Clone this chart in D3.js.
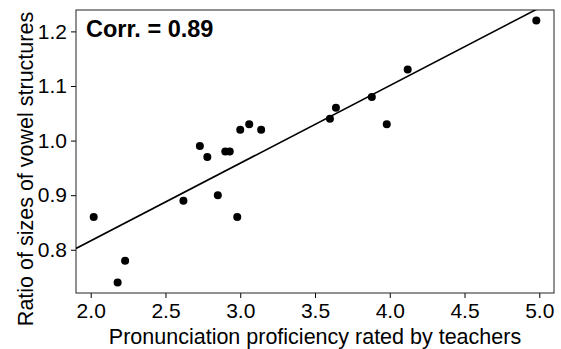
<!DOCTYPE html>
<html><head><meta charset="utf-8">
<script src="https://cdn.jsdelivr.net/npm/d3@7"></script>
<style>
html,body{margin:0;padding:0;background:#fff;}
svg{display:block;font-family:"Liberation Sans",Arial,Helvetica,sans-serif;}
</style></head>
<body>
<svg id="chart" width="561" height="349"></svg>
<script>
const proficiency = [2.02, 2.18, 2.23, 2.62, 2.73, 2.78, 2.85, 2.90, 2.93, 2.98, 3.00, 3.06, 3.14, 3.60, 3.64, 3.88, 3.98, 4.12, 4.98];
const ratio = [0.86, 0.74, 0.78, 0.89, 0.99, 0.97, 0.90, 0.98, 0.98, 0.86, 1.02, 1.03, 1.02, 1.04, 1.06, 1.08, 1.03, 1.13, 1.22];
const xTicks = [2.0, 2.5, 3.0, 3.5, 4.0, 4.5, 5.0];
const yTicks = [0.8, 0.9, 1.0, 1.1, 1.2];
const fitLine = [0.532, 0.1422]; // intercept, slope
const xTitle = "Pronunciation proficiency rated by teachers";
const yTitle = "Ratio of sizes of vowel structures";
const corrLabel = "Corr. = 0.89";

const svg = d3.select("#chart");
const L = 76, R = 554, T = 10, B = 293;

function padded(vals) {
  const [a, b] = d3.extent(vals); const p = (b - a) * 0.04; return [a - p, b + p];
}
const x = d3.scaleLinear().domain(padded(proficiency)).range([L, R]);
const y = d3.scaleLinear().domain(padded(ratio)).range([B, T]);
const [intercept, slope] = fitLine;

svg.append("defs").append("clipPath").attr("id", "clip")
  .append("rect").attr("x", L).attr("y", T).attr("width", R - L).attr("height", B - T);

// axes
const xAxis = d3.axisBottom(x).tickValues(xTicks).tickFormat(d3.format(".1f")).tickSize(5).tickPadding(5);
const gx = svg.append("g").attr("transform", `translate(0,${B})`).call(xAxis);
gx.select(".domain").remove();
gx.selectAll("text").attr("font-size", 21).attr("font-family", "Liberation Sans, Arial, sans-serif").attr("fill", "#000");
gx.selectAll("line").attr("stroke", "#000");

const yAxis = d3.axisLeft(y).tickValues(yTicks).tickFormat(d3.format(".1f")).tickSize(5).tickPadding(4);
const gy = svg.append("g").attr("transform", `translate(${L},0)`).call(yAxis);
gy.select(".domain").remove();
gy.selectAll("text").attr("font-size", 21).attr("font-family", "Liberation Sans, Arial, sans-serif").attr("fill", "#000");
gy.selectAll("line").attr("stroke", "#000");

// box
svg.append("rect").attr("x", L).attr("y", T).attr("width", R - L).attr("height", B - T)
  .attr("fill", "none").attr("stroke", "#222").attr("stroke-width", 1);

// regression line
const xd = x.domain();
svg.append("line").attr("clip-path", "url(#clip)")
  .attr("x1", x(xd[0])).attr("y1", y(intercept + slope * xd[0]))
  .attr("x2", x(xd[1])).attr("y2", y(intercept + slope * xd[1]))
  .attr("stroke", "#000").attr("stroke-width", 1.6);

// points
svg.append("g").selectAll("circle").data(proficiency).join("circle")
  .attr("cx", d => x(d)).attr("cy", (d, i) => y(ratio[i])).attr("r", 4).attr("fill", "#000");

// corr label
svg.append("text").attr("x", L + 10).attr("y", 37).attr("font-size", 23.5).attr("font-weight", "bold")
  .attr("fill", "#000").text(corrLabel);

// titles
svg.append("text").attr("x", (L + R) / 2).attr("y", 344).attr("text-anchor", "middle")
  .attr("font-size", 21.5).attr("fill", "#000").text(xTitle);
svg.append("text").attr("transform", `translate(33,169) rotate(-90)`).attr("text-anchor", "middle")
  .attr("font-size", 21.5).attr("fill", "#000").text(yTitle);
</script>
</body></html>
